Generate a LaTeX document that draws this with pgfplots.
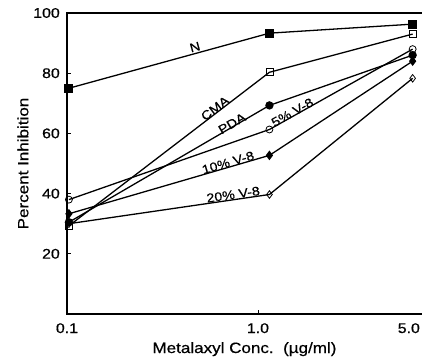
\documentclass[border=0pt]{standalone}
\usepackage{fontspec}
\setmainfont[FakeStretch=1.14, FakeBold=0.6]{Liberation Sans}
\usepackage{pgfplots}
\pgfplotsset{compat=1.18}
\begin{document}
\begin{tikzpicture}
\useasboundingbox (-67bp,-47bp) rectangle (355bp,314bp);
\begin{axis}[
  at={(0,0)}, anchor=south west,
  scale only axis, width=355bp, height=301bp,
  xmin=0, xmax=1.859, ymin=0, ymax=100,
  axis line style={draw=none},
  clip=false,
  tick align=inside, major tick length=4pt,
  tick style={black, line width=0.9pt},
  xtick={1}, xticklabels={1.0},
  extra x ticks={0,1.79}, extra x tick labels={0.1,5.0},
  extra x tick style={major tick length=0pt},
  ytick={20,40,60,80,100},
  ytick pos=left, xtick pos=bottom,
  ticklabel style={font=\fontsize{14}{16}\selectfont, inner sep=0pt},
  xticklabel style={anchor=base, yshift=-19bp},
  yticklabel style={anchor=east, xshift=-7bp},
  /pgf/number format/assume math mode=true,
  xlabel={Metalaxyl Conc.\ \ (µg/ml)},
  ylabel={Percent Inhibition},
  label style={font=\fontsize{15}{18}\selectfont, inner sep=0pt},
  xlabel style={at={(axis description cs:0.5,-0.1296)}, anchor=base},
  ylabel style={at={(axis description cs:-0.124,0.5)}, anchor=center},
  every axis plot/.append style={black, line width=1.3pt},
]
\draw[line width=1.2pt] (rel axis cs:1,1) -- (rel axis cs:0,1) -- (rel axis cs:0,0) -- (rel axis cs:1,0);
% N
\addplot[mark=square*, mark size=3.8pt] coordinates {(0.01,75) (1.06,93.3) (1.81,96.3)};
% CMA
\addplot[mark=square, mark options={fill=white, line width=0.8pt}, mark size=3.5pt] coordinates {(0.01,29.3) (1.06,80.3) (1.81,93)};
% PDA
\addplot[mark=*, mark size=3.5pt] coordinates {(0.01,30.5) (1.06,69.3) (1.81,86)};
% 5% V-8
\addplot[mark=o, mark options={fill=white, line width=0.8pt}, mark size=3.5pt] coordinates {(0.01,38) (1.06,61.3) (1.81,88)};
% 10% V-8
\addplot[mark=diamond*, mark size=3.8pt] coordinates {(0.01,33.3) (1.06,52.7) (1.81,84)};
% 20% V-8
\addplot[mark=diamond, mark options={fill=white, line width=0.8pt}, mark size=3.8pt] coordinates {(0.01,30) (1.06,39.7) (1.81,78.3)};
\begin{scope}[font=\fontsize{12.5}{14}\selectfont, inner sep=0pt]
\node[rotate=15.3] at (axis cs:0.67,88.7) {N};
\node[rotate=37.3] at (axis cs:0.775,68.3) {CMA};
\node[rotate=30.2] at (axis cs:0.864,63.3) {PDA};
\node[rotate=29.2] at (axis cs:1.18,67) {5\% V-8};
\node[rotate=16.3] at (axis cs:0.843,50.3) {10\% V-8};
\node[rotate=8.3] at (axis cs:0.87,39.7) {20\% V-8};
\end{scope}
\end{axis}
\end{tikzpicture}
\end{document}
